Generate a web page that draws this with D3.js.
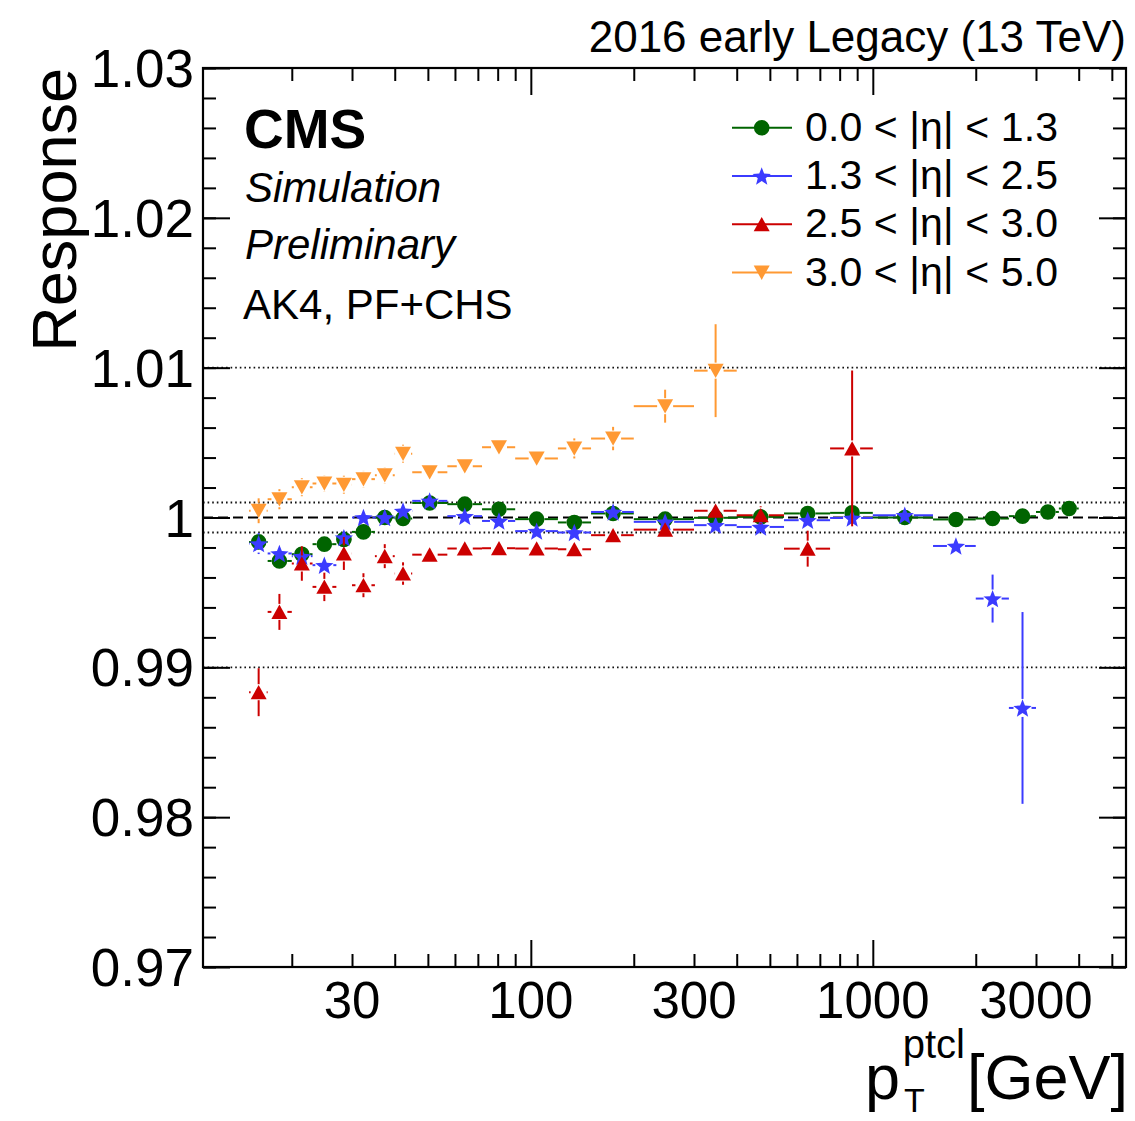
<!DOCTYPE html>
<html>
<head>
<meta charset="utf-8">
<script src="https://cdn.jsdelivr.net/npm/d3@7"></script>
<style>
  body { margin: 0; background: #fff; }
  svg { display: block; }
  text { font-family: "Liberation Sans", Arial, Helvetica, sans-serif; fill: #000; }
</style>
</head>
<body>
<svg id="chart" width="1135" height="1121"></svg>
<script>
// pT bin edges (GeV) and the mean particle-level pT inside each bin
const binEdges = [15, 17, 20, 23, 27, 30, 35, 40, 45, 57, 72, 90, 120, 150, 200, 300,
                  400, 550, 750, 1000, 1500, 2000, 2500, 3000, 3500, 4000];
const ptCenters = [16.0, 18.4, 21.4, 24.9, 28.4, 32.4, 37.4, 42.3, 50.6, 64.1, 80.7, 104,
                   134, 174, 247, 347, 470, 645, 870, 1240, 1750, 2240, 2740, 3250, 3750];

// Response per |eta| region (values and statistical uncertainty)
const respEta0013 = [0.99837, 0.99710, 0.99755, 0.99822, 0.99853, 0.99904, 1.00000, 0.99993,
                     1.00097, 1.00089, 1.00055, 0.99989, 0.99967, 1.00027, 0.99989, 0.99998,
                     1.00004, 1.00027, 1.00031, 1.00000, 0.99987, 0.99993, 1.00009, 1.00037, 1.00060];
const errEta0013  = [0.0003, 0.0002, 0.0002, 0.0002, 0.0002, 0.0002, 0.0002, 0.0002, 0.0001,
                     0.0001, 0.0001, 0.0001, 0.0001, 0.0001, 0.0001, 0.0001, 0.0001, 0.0001,
                     0.0001, 0.0001, 0.0001, 0.0001, 0.0001, 0.0002, 0.0002];

const respEta1325 = [0.99826, 0.99760, 0.99742, 0.99682, 0.99866, 1.00000, 1.00000, 1.00044,
                     1.00111, 1.00009, 0.99977, 0.99909, 0.99900, 1.00037, 0.99971, 0.99949,
                     0.99937, 0.99982, 0.99997, 1.00015, 0.99810, 0.99459, 0.98729];
const errEta1325  = [0.0007, 0.0005, 0.0004, 0.0004, 0.0004, 0.0003, 0.0003, 0.0003, 0.0002,
                     0.0002, 0.0002, 0.0002, 0.0002, 0.0002, 0.0002, 0.0002, 0.0002, 0.0002,
                     0.0002, 0.0003, 0.0004, 0.0016, 0.0064];

const respEta2530 = [0.98834, 0.99370, 0.99693, 0.99537, 0.99760, 0.99548, 0.99742, 0.99626,
                     0.99752, 0.99793, 0.99795, 0.99793, 0.99788, 0.99882, 0.99919, 1.00045,
                     1.00015, 0.99792, 1.00461];
const errEta2530  = [0.0016, 0.0012, 0.00115, 0.00095, 0.0011, 0.0008, 0.0008, 0.00075, 0.0004,
                     0.0003, 0.0003, 0.0003, 0.0003, 0.0004, 0.0004, 0.0005, 0.0006, 0.0012, 0.0052];

const respEta3050 = [1.00045, 1.00122, 1.00202, 1.00227, 1.00219, 1.00256, 1.00282, 1.00426,
                     1.00302, 1.00342, 1.00469, 1.00394, 1.00461, 1.00527, 1.00743, 1.00980];
const errEta3050  = [0.00083, 0.00067, 0.0006, 0.00055, 0.0006, 0.00055, 0.00055, 0.0006, 0.0005,
                     0.0005, 0.0005, 0.0005, 0.00067, 0.00078, 0.0011, 0.0031];

const legendLabels = ["0.0 < |\u03b7| < 1.3", "1.3 < |\u03b7| < 2.5",
                      "2.5 < |\u03b7| < 3.0", "3.0 < |\u03b7| < 5.0"];

// Axis ticks
const xLabelTicks = [30, 100, 300, 1000, 3000];
const xMajorTicks = [100, 1000];
const xMinorTicks = [20, 30, 40, 50, 60, 70, 80, 90, 200, 300, 400, 500, 600, 700, 800, 900,
                     2000, 3000, 4000, 5000];
const yMajorTicks = [0.97, 0.98, 0.99, 1.00, 1.01, 1.02, 1.03];
const yTickLabels = ["0.97", "0.98", "0.99", "1", "1.01", "1.02", "1.03"];
const yMinorStep = 0.002;
const dottedLevels = [1.01, 1.001, 0.999, 0.99];
const dashedLevel = 1.0;

// ---------------------------------------------------------------
const svg = d3.select("#chart");
const frame = { left: 203, right: 1126, top: 68, bottom: 967 };

const x = d3.scaleLog().domain([11, 5500]).range([frame.left, frame.right]);
const y = d3.scaleLinear().domain([0.97, 1.03]).range([frame.bottom, frame.top]);

svg.append("rect").attr("width", 1135).attr("height", 1121).attr("fill", "#fff");

// reference lines
const refG = svg.append("g");
refG.selectAll("line.dot").data(dottedLevels).join("line")
  .attr("x1", frame.left).attr("x2", frame.right)
  .attr("y1", d => y(d)).attr("y2", d => y(d))
  .attr("stroke", "#111").attr("stroke-width", 1.8).attr("stroke-dasharray", "1.6,3");
refG.append("line")
  .attr("x1", frame.left).attr("x2", frame.right)
  .attr("y1", y(dashedLevel)).attr("y2", y(dashedLevel))
  .attr("stroke", "#000").attr("stroke-width", 1.8).attr("stroke-dasharray", "10,5");

// axes (ticks only, pointing into the frame)
function tickAxis(gen, tx, ty) {
  const g = svg.append("g").attr("transform", `translate(${tx},${ty})`).call(gen);
  g.select(".domain").remove();
  g.selectAll("text").remove();
  g.selectAll("line").attr("stroke", "#000").attr("stroke-width", 2);
  return g;
}
const yMinorTicks = d3.range(0, 31).map(i => +(0.97 + i * yMinorStep).toFixed(4));

tickAxis(d3.axisBottom(x).tickValues(xMinorTicks).tickSizeInner(-13).tickSizeOuter(0), 0, frame.bottom);
tickAxis(d3.axisBottom(x).tickValues(xMajorTicks).tickSizeInner(-27).tickSizeOuter(0), 0, frame.bottom);
tickAxis(d3.axisTop(x).tickValues(xMinorTicks).tickSizeInner(-13).tickSizeOuter(0), 0, frame.top);
tickAxis(d3.axisTop(x).tickValues(xMajorTicks).tickSizeInner(-27).tickSizeOuter(0), 0, frame.top);
tickAxis(d3.axisLeft(y).tickValues(yMinorTicks).tickSizeInner(-13).tickSizeOuter(0), frame.left, 0);
tickAxis(d3.axisLeft(y).tickValues(yMajorTicks).tickSizeInner(-27).tickSizeOuter(0), frame.left, 0);
tickAxis(d3.axisRight(y).tickValues(yMinorTicks).tickSizeInner(-13).tickSizeOuter(0), frame.right, 0);
tickAxis(d3.axisRight(y).tickValues(yMajorTicks).tickSizeInner(-27).tickSizeOuter(0), frame.right, 0);

// tick labels
svg.append("g").selectAll("text").data(xLabelTicks).join("text")
  .attr("x", d => x(d)).attr("y", 1018)
  .attr("text-anchor", "middle").attr("font-size", 51)
  .text(d => d);
svg.append("g").selectAll("text").data(yMajorTicks).join("text")
  .attr("x", 194).attr("y", d => y(d) + 19)
  .attr("text-anchor", "end").attr("font-size", 53)
  .text((d, i) => yTickLabels[i]);

// marker shapes
function starPath(R, ratio) {
  const pts = d3.range(10).map(k => {
    const a = -Math.PI / 2 + k * Math.PI / 5;
    const r = k % 2 === 0 ? R : R * ratio;
    return [r * Math.cos(a), r * Math.sin(a) + R * 0.1];
  });
  return "M" + pts.map(p => p[0].toFixed(2) + "," + p[1].toFixed(2)).join("L") + "Z";
}
const markerPath = {
  circle: d3.symbol(d3.symbolCircle, Math.PI * 7.8 * 7.8)(),
  star: starPath(9.6, 0.43),
  triUp: "M0,-7.3L8,7L-8,7Z",
  triDown: "M0,7.3L8,-7L-8,-7Z"
};
const markerGap = { circle: 7.8, star: 9, triUp: 8, triDown: 8 };

const series = [
  { values: respEta0013, errs: errEta0013, color: "#006400", marker: "circle" },
  { values: respEta1325, errs: errEta1325, color: "#3b3bff", marker: "star" },
  { values: respEta2530, errs: errEta2530, color: "#cc0000", marker: "triUp" },
  { values: respEta3050, errs: errEta3050, color: "#ff9933", marker: "triDown" }
];

series.forEach(s => {
  const pts = s.values.map((v, i) => ({
    px: x(ptCenters[i]), py: y(v),
    xl: x(binEdges[i]), xr: x(binEdges[i + 1]),
    yt: y(v + s.errs[i]), yb: y(v - s.errs[i])
  }));
  const gap = markerGap[s.marker];
  const g = svg.append("g");
  const segs = [];
  pts.forEach(p => {
    if (p.px - gap > p.xl) segs.push([p.xl, p.py, p.px - gap, p.py]);
    if (p.xr > p.px + gap) segs.push([p.px + gap, p.py, p.xr, p.py]);
    if (p.py - gap > p.yt) segs.push([p.px, p.yt, p.px, p.py - gap]);
    if (p.yb > p.py + gap) segs.push([p.px, p.py + gap, p.px, p.yb]);
  });
  g.selectAll("line").data(segs).join("line")
    .attr("x1", d => d[0]).attr("y1", d => d[1]).attr("x2", d => d[2]).attr("y2", d => d[3])
    .attr("stroke", s.color).attr("stroke-width", 2);
  g.selectAll("path").data(pts).join("path")
    .attr("d", markerPath[s.marker])
    .attr("transform", d => `translate(${d.px},${d.py})`)
    .attr("fill", s.color);
});

// legend
const legendTop = 127.7, legendStep = 48.3;
const leg = svg.append("g");
series.forEach((s, i) => {
  const ry = legendTop + i * legendStep;
  leg.append("line").attr("x1", 732).attr("x2", 792).attr("y1", ry).attr("y2", ry)
    .attr("stroke", s.color).attr("stroke-width", 2);
  leg.append("path").attr("d", markerPath[s.marker])
    .attr("transform", `translate(761.7,${ry})`).attr("fill", s.color);
  leg.append("text").attr("x", 805).attr("y", ry + 13)
    .attr("font-size", 41).attr("textLength", 253).attr("lengthAdjust", "spacing")
    .text(legendLabels[i]);
});

// frame
svg.append("rect")
  .attr("x", frame.left).attr("y", frame.top)
  .attr("width", frame.right - frame.left).attr("height", frame.bottom - frame.top)
  .attr("fill", "none").attr("stroke", "#000").attr("stroke-width", 2.2);

// titles and annotations
svg.append("text").attr("x", 1126).attr("y", 52).attr("text-anchor", "end")
  .attr("font-size", 44).text("2016 early Legacy (13 TeV)");
svg.append("text").attr("x", 244).attr("y", 148).attr("font-size", 55)
  .attr("font-weight", "bold").text("CMS");
svg.append("text").attr("x", 245).attr("y", 202).attr("font-size", 42)
  .attr("font-style", "italic").text("Simulation");
svg.append("text").attr("x", 245).attr("y", 259).attr("font-size", 42)
  .attr("font-style", "italic").text("Preliminary");
svg.append("text").attr("x", 243).attr("y", 319).attr("font-size", 42)
  .text("AK4, PF+CHS");

svg.append("text").attr("transform", "translate(76,68) rotate(-90)")
  .attr("text-anchor", "end").attr("font-size", 63).text("Response");

const xt = svg.append("g");
xt.append("text").attr("x", 1128).attr("y", 1099).attr("text-anchor", "end")
  .attr("font-size", 63).text("[GeV]");
xt.append("text").attr("x", 965).attr("y", 1058).attr("text-anchor", "end")
  .attr("font-size", 40).text("ptcl");
xt.append("text").attr("x", 904).attr("y", 1112)
  .attr("font-size", 34).text("T");
xt.append("text").attr("x", 900).attr("y", 1099).attr("text-anchor", "end")
  .attr("font-size", 63).text("p");
</script>
</body>
</html>
